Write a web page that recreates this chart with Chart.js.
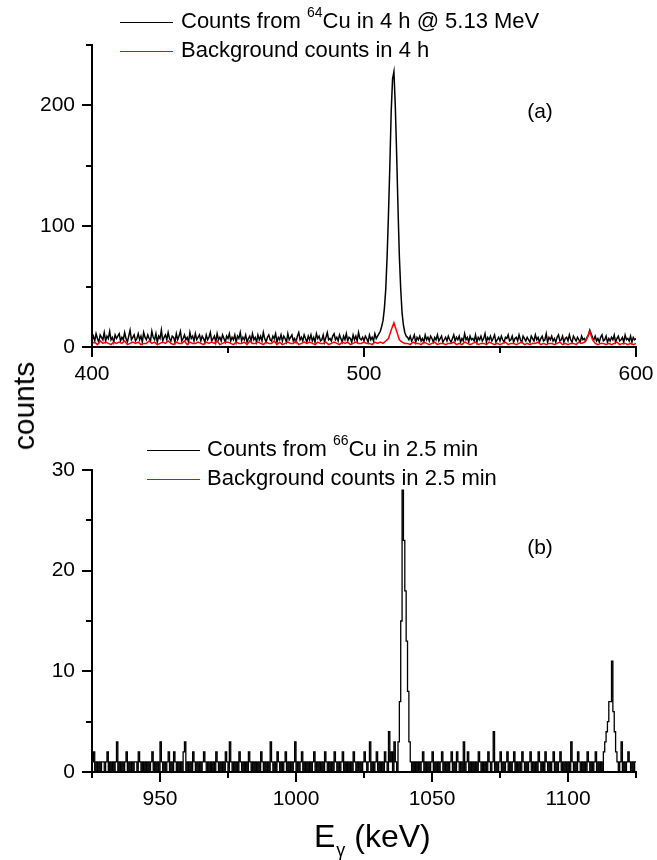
<!DOCTYPE html>
<html>
<head>
<meta charset="utf-8">
<script src="https://cdn.jsdelivr.net/npm/chart.js@4.4.1/dist/chart.umd.min.js"></script>
<style>
  body { margin: 0; background: #fff; }
  #wrap { position: relative; width: 657px; height: 860px; font-family: "Liberation Sans", Arial, sans-serif; }
  #chartA { position: absolute; left: 0; top: 0; }
  #chartB { position: absolute; left: 0; top: 425px; }
  #ylab { position: absolute; left: 24px; top: 406px; transform: translate(-50%, -50%) rotate(-90deg); font-size: 30px; white-space: nowrap; }
</style>
</head>
<body>
<div id="wrap">
  <canvas id="chartA" width="657" height="425"></canvas>
  <canvas id="chartB" width="657" height="435"></canvas>
  <div id="ylab">counts</div>
</div>
<script>
// panel (a): 400-600 keV; source counts every 0.5 keV, background every 1 keV
const A_START = 400, A_STEP = 0.5, BG_A_STEP = 1;
const cuA = [
  6,9,5,11,7,4,10,8,6,12,5,9,7,13,6,8,4,10,7,9,
  11,5,8,6,12,7,4,9,14,6,8,10,5,7,11,6,9,4,12,8,
  6,10,7,5,13,8,6,11,4,9,7,14,5,8,10,6,12,7,5,9,
  8,4,11,6,9,13,5,7,10,6,8,4,12,7,9,5,11,6,8,10,
  5,9,7,4,10,6,8,12,5,7,9,4,11,6,8,5,10,7,4,9,
  7,11,5,8,6,10,4,9,7,12,5,8,6,10,4,7,9,5,11,6,
  8,4,10,6,9,5,12,7,4,8,10,6,5,9,7,11,4,8,6,10,
  5,9,7,4,11,6,8,10,5,7,4,9,12,6,8,5,10,7,4,9,
  6,10,5,8,4,11,7,9,5,6,10,4,8,12,6,7,5,9,11,6,
  8,5,10,7,4,9,6,11,5,8,7,4,10,6,9,5,12,7,6,8,
  5,9,7,4,10,6,8,5,11,7,9,11,13,17,22,32,48,75,110,150,
  195,222,228,200,160,115,75,48,28,18,12,9,8,6,9,5,7,10,4,8,
  6,9,5,7,4,10,6,8,5,9,7,4,8,6,10,5,7,9,4,6,
  8,5,9,6,4,7,10,5,8,6,9,4,7,5,11,6,8,4,9,6,
  7,5,10,4,8,6,9,5,7,11,4,8,6,9,5,7,10,4,6,8,
  5,9,6,4,8,7,10,5,6,9,4,7,8,5,10,6,4,9,7,5,
  8,6,4,9,7,5,10,6,8,4,7,9,5,6,11,4,8,6,9,5,
  7,4,8,10,5,6,9,4,7,8,5,10,6,4,9,7,5,8,6,4,
  9,6,7,5,8,10,14,11,8,6,9,5,7,4,8,10,5,6,9,4,
  7,5,8,6,10,4,7,9,5,6,8,4,10,6,7,5,9,4,8,6,
  7
];
const bgA = [
  3,4,2,5,3,4,3,2,4,3,
  4,3,5,2,3,4,3,4,2,3,
  3,5,3,4,2,3,4,3,5,3,
  2,4,3,3,5,2,4,3,3,4,
  3,2,4,3,4,3,5,2,3,4,
  4,3,2,4,3,3,4,2,5,3,
  3,4,3,2,4,3,3,5,2,4,
  2,3,4,3,3,5,2,3,4,3,
  4,3,2,4,3,3,4,2,3,4,
  3,2,4,3,4,2,3,4,3,3,
  4,3,3,2,4,3,4,3,5,7,
  14,20,13,6,4,3,3,2,4,3,
  3,2,4,3,2,3,4,2,3,3,
  2,3,3,4,2,3,2,4,3,2,
  3,4,2,3,3,2,4,3,2,3,
  2,3,4,2,3,3,2,3,4,2,
  3,2,3,3,4,2,3,2,3,3,
  2,3,4,2,3,2,3,3,2,4,
  3,4,7,13,6,3,2,3,3,2,
  3,2,3,4,2,3,3,2,3,2,
  3
];

// panel (b): 925-1125 keV, 0.5 keV per channel
const B_START = 925, B_STEP = 0.5;
const cuB = [
  1,2,0,1,0,1,0,1,1,0,1,2,0,1,0,1,0,1,3,0,
  1,0,1,0,1,2,0,1,0,1,0,1,1,0,2,1,0,1,0,1,
  0,1,0,1,2,0,1,0,1,0,3,1,0,1,0,1,2,0,1,0,
  2,1,0,1,0,1,0,2,3,0,1,0,1,0,2,1,0,1,0,1,
  0,1,2,1,0,1,0,1,0,1,0,2,1,0,1,0,1,0,2,1,
  0,3,1,0,1,0,1,0,2,1,0,1,0,1,0,2,1,0,1,0,
  1,0,1,0,2,1,0,1,0,1,0,3,1,0,1,0,2,1,0,1,
  0,1,2,0,1,0,1,0,1,3,0,1,0,1,2,0,1,0,1,0,
  1,0,1,2,0,1,0,1,0,1,0,2,1,0,1,0,1,0,2,1,
  0,1,0,1,2,0,1,0,1,0,1,0,2,1,0,1,0,1,0,1,
  2,1,0,1,3,0,1,0,1,2,0,1,0,1,0,2,1,0,4,1,
  2,0,3,1,0,3,7,15,28,23,18,13,8,3,1,0,1,0,1,0,
  1,0,1,2,0,1,0,1,0,1,2,0,1,0,1,0,1,2,0,1,
  0,1,0,1,2,0,1,0,2,1,0,1,0,3,0,1,2,0,1,0,
  1,0,1,0,2,1,0,1,0,1,0,2,1,0,1,4,0,1,0,1,
  2,0,1,0,1,2,0,1,0,1,2,0,1,0,1,0,2,1,0,1,
  0,1,2,0,1,0,1,0,2,1,0,1,0,2,1,0,1,0,1,2,
  0,1,0,1,2,0,1,0,1,0,1,0,3,1,0,1,0,2,1,0,
  1,0,1,0,2,1,0,1,0,1,2,0,1,0,1,0,2,3,4,5,
  7,7,11,6,4,2,1,0,1,3,0,1,0,1,2,1,0,1,0,1,
  1
];
// background in (b), 5 keV per point: nothing above zero
const BG_B_STEP = 5;
const bgB = [0,0,0,0,0,0,0,0,0,0, 0,0,0,0,0,0,0,0,0,0, 0,0,0,0,0,0,0,0,0,0, 0,0,0,0,0,0,0,0,0,0, 0];

const legendA = [["Counts from ", "64", "Cu in 4 h @ 5.13 MeV"], ["Background counts in 4 h"]];
const legendB = [["Counts from ", "66", "Cu in 2.5 min"], ["Background counts in 2.5 min"]];

const FONT = '"Liberation Sans", Arial, sans-serif';
const BLACK = "#000000", RED = "#ff0000";

function toPoints(values, start, step) {
  return values.map((v, i) => ({ x: start + i * step, y: v }));
}

// draws major/minor tick marks outside the axes
const tickMarks = {
  id: "tickMarks",
  afterDraw(chart, args, opts) {
    const ctx = chart.ctx;
    const xs = chart.scales.x, ys = chart.scales.y;
    ctx.save();
    ctx.strokeStyle = "#000";
    ctx.lineWidth = 2;
    xs.ticks.forEach((t) => {
      const px = Math.round(xs.getPixelForValue(t.value));
      const len = t.value % opts.xMajor === 0 ? 10 : 6;
      ctx.beginPath();
      ctx.moveTo(px, xs.top);
      ctx.lineTo(px, xs.top + len);
      ctx.stroke();
    });
    ys.ticks.forEach((t) => {
      const py = Math.round(ys.getPixelForValue(t.value));
      const len = t.value % opts.yMajor === 0 ? 10 : 6;
      ctx.beginPath();
      ctx.moveTo(ys.right, py);
      ctx.lineTo(ys.right - len, py);
      ctx.stroke();
    });
    ctx.restore();
  },
};

// legend with superscript, panel tag and optional x title
const annotate = {
  id: "annotate",
  afterDraw(chart, args, opts) {
    const ctx = chart.ctx;
    ctx.save();
    ctx.fillStyle = "#000";
    opts.legend.forEach((parts, i) => {
      const y = opts.rows[i];
      ctx.strokeStyle = opts.colors[i];
      ctx.lineWidth = 1;
      ctx.beginPath();
      ctx.moveTo(opts.lineX[0], y + 0.5);
      ctx.lineTo(opts.lineX[1], y + 0.5);
      ctx.stroke();
      let x = opts.textX;
      parts.forEach((p, j) => {
        const sup = j % 2 === 1;
        ctx.font = (sup ? "14px " : "22px ") + FONT;
        ctx.textBaseline = "middle";
        ctx.fillText(p, x, sup ? y - 9 : y);
        x += ctx.measureText(p).width;
      });
    });
    ctx.font = "21px " + FONT;
    ctx.textAlign = "center";
    ctx.textBaseline = "middle";
    ctx.fillText(opts.tag, opts.tagX, opts.tagY);
    if (opts.title) {
      ctx.textAlign = "left";
      ctx.textBaseline = "alphabetic";
      let x = opts.title.x;
      ctx.font = "32px " + FONT;
      ctx.fillText("E", x, opts.title.y);
      x += ctx.measureText("E").width + 1;
      ctx.font = "18px " + FONT;
      ctx.fillText("\u03b3", x, opts.title.y + 9);
      x += ctx.measureText("\u03b3").width;
      ctx.font = "32px " + FONT;
      ctx.fillText(" (keV)", x, opts.title.y);
    }
    ctx.restore();
  },
};

function axisOpts(range, padding, fitter) {
  const [min, max, step, major] = range;
  return {
    type: "linear",
    min, max,
    grid: { display: false, drawTicks: false },
    border: { display: true, color: "#000", width: 2, z: 1 },
    ticks: {
      stepSize: step,
      autoSkip: false,
      maxRotation: 0,
      padding,
      color: "#000",
      font: { family: FONT, size: 21 },
      callback: (v) => (v % major === 0 ? String(v) : ""),
    },
    afterFit: fitter,
  };
}

function makeChart(id, cfg) {
  return new Chart(document.getElementById(id), {
    type: "line",
    data: { datasets: cfg.datasets },
    options: {
      responsive: false,
      animation: false,
      events: [],
      layout: { padding: { top: 45, right: 21, left: 0, bottom: 0 } },
      elements: { point: { radius: 0 }, line: { tension: 0 } },
      scales: {
        x: axisOpts(cfg.x, 15, (s) => { s.height = cfg.xh; s.paddingLeft = 0; s.paddingRight = 0; }),
        y: axisOpts(cfg.y, 17, (s) => { s.width = 92; s.paddingTop = 0; s.paddingBottom = 0; }),
      },
      plugins: {
        legend: { display: false },
        tooltip: { enabled: false },
        tickMarks: { xMajor: cfg.x[3], yMajor: cfg.y[3] },
        annotate: cfg.annotate,
      },
    },
    plugins: [tickMarks, annotate],
  });
}

makeChart("chartA", {
  datasets: [
    { label: "Counts from 64Cu in 4 h @ 5.13 MeV", data: toPoints(cuA, A_START, A_STEP), borderColor: BLACK, borderWidth: 1.5, order: 2 },
    { label: "Background counts in 4 h", data: toPoints(bgA, A_START, BG_A_STEP), borderColor: RED, borderWidth: 1.5, order: 1 },
  ],
  x: [400, 600, 50, 100],
  y: [0, 250, 50, 100],
  xh: 78,
  annotate: { legend: legendA, colors: [BLACK, RED], rows: [22, 51], lineX: [120, 173], textX: 181, tag: "(a)", tagX: 540, tagY: 112 },
});

makeChart("chartB", {
  datasets: [
    { label: "Counts from 66Cu in 2.5 min", data: toPoints(cuB, B_START, B_STEP), borderColor: BLACK, borderWidth: 1.3, stepped: true, order: 1 },
    { label: "Background counts in 2.5 min", data: toPoints(bgB, B_START, BG_B_STEP), borderColor: RED, borderWidth: 1, order: 2 },
  ],
  x: [925, 1125, 25, 50],
  y: [0, 30, 5, 10],
  xh: 88,
  annotate: { legend: legendB, colors: [BLACK, RED], rows: [25, 54], lineX: [147, 200], textX: 207, tag: "(b)", tagX: 540, tagY: 123, title: { x: 314, y: 422 } },
});
</script>
</body>
</html>
